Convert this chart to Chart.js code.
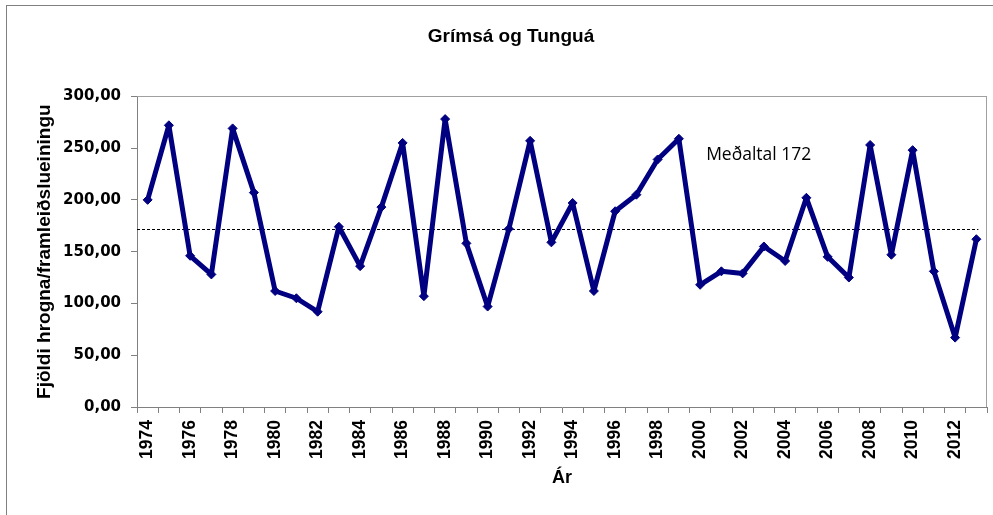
<!DOCTYPE html>
<html>
<head>
<meta charset="utf-8">
<script src="https://cdn.jsdelivr.net/npm/chart.js@4/dist/chart.umd.min.js"></script>
<style>
  html, body { margin: 0; padding: 0; background: #ffffff; }
  canvas { display: block; }
</style>
</head>
<body>
<canvas id="c" width="993" height="515"></canvas>
<script>
// ---- Data ----
const chartTitle = 'Grímsá og Tunguá';
const xAxisTitle = 'Ár';
const yAxisTitle = 'Fjöldi hrogna/framleiðslueiningu';
const years = ['1974','1975','1976','1977','1978','1979','1980','1981','1982','1983',
               '1984','1985','1986','1987','1988','1989','1990','1991','1992','1993',
               '1994','1995','1996','1997','1998','1999','2000','2001','2002','2003',
               '2004','2005','2006','2007','2008','2009','2010','2011','2012','2013'];
const eggsPerUnit = [200,272,146,128,269,207,112,105,92,174,
                     136,193,255,107,278,158,97,172,257,159,
                     197,112,189,205,239,259,118,131,129,155,
                     141,202,145,125,253,147,248,131,67,162];
const meanValue = 172;
const meanLabel = 'Meðaltal 172';
const yTickValues = [0, 50, 100, 150, 200, 250, 300];

// ---- Plugins ----
const decor = {
  id: 'decor',
  beforeDraw(chart) {
    const ctx = chart.ctx;
    ctx.save();
    ctx.fillStyle = '#ffffff';
    ctx.fillRect(0, 0, chart.width, chart.height);
    ctx.strokeStyle = '#808080';
    ctx.lineWidth = 1;
    ctx.strokeRect(6.5, 5.5, chart.width + 10, chart.height + 10);
    ctx.restore();
  },
  beforeDatasetsDraw(chart) {
    const ctx = chart.ctx;
    const a = chart.chartArea;
    const xs = chart.scales.x, ys = chart.scales.y;
    ctx.save();
    // plot frame top / right
    ctx.strokeStyle = '#a0a0a0';
    ctx.lineWidth = 1;
    ctx.beginPath();
    ctx.moveTo(a.left, Math.round(a.top) + 0.5);
    ctx.lineTo(a.right, Math.round(a.top) + 0.5);
    ctx.moveTo(Math.round(a.right) - 0.5, a.top);
    ctx.lineTo(Math.round(a.right) - 0.5, a.bottom);
    ctx.stroke();
    // mean line
    const my = Math.round(ys.getPixelForValue(meanValue)) + 0.5;
    ctx.strokeStyle = '#000000';
    ctx.setLineDash([3, 2]);
    ctx.beginPath();
    ctx.moveTo(a.left, my);
    ctx.lineTo(xs.getPixelForValue(years.length - 1) + 2, my);
    ctx.stroke();
    ctx.setLineDash([]);
    // mean label
    ctx.fillStyle = '#000000';
    ctx.font = '17.5px "Open Sans"';
    ctx.textAlign = 'left';
    ctx.textBaseline = 'middle';
    ctx.fillText(meanLabel, xs.getPixelForValue(years.indexOf('2000')) + 6, ys.getPixelForValue(243));
    ctx.restore();
  }
};

new Chart(document.getElementById('c'), {
  type: 'line',
  data: {
    labels: years,
    datasets: [{
      data: eggsPerUnit,
      borderColor: '#000080',
      backgroundColor: '#000080',
      borderWidth: 5,
      borderJoinStyle: 'round',
      borderCapStyle: 'round',
      pointStyle: 'rectRot',
      pointRadius: 4.5,
      pointBorderWidth: 1,
      pointBackgroundColor: '#000080',
      pointBorderColor: '#000080',
      tension: 0,
      fill: false
    }]
  },
  options: {
    responsive: false,
    animation: false,
    devicePixelRatio: 1,
    layout: { padding: { left: 35, right: 6, top: 0, bottom: 0 } },
    plugins: {
      legend: { display: false },
      tooltip: { enabled: false },
      title: {
        display: true,
        text: chartTitle,
        color: '#000000',
        font: { family: '"Liberation Sans", Arial', size: 19, weight: 'bold', lineHeight: 1.2 },
        padding: { top: 25, bottom: 48.5 }
      }
    },
    scales: {
      x: {
        offset: true,
        grid: { display: true, offset: true, drawOnChartArea: false, drawTicks: true, tickLength: 6, color: '#808080' },
        border: { display: true, color: '#808080', width: 1 },
        ticks: {
          autoSkip: false,
          minRotation: 90,
          maxRotation: 90,
          padding: 7,
          color: '#000000',
          font: { family: '"Liberation Sans", Arial', size: 17.5, weight: 'bold' },
          callback: function (v, i) { return i % 2 === 0 ? years[i] : ''; }
        },
        title: {
          display: true,
          text: xAxisTitle,
          color: '#000000',
          font: { family: '"Liberation Sans", Arial', size: 18, weight: 'bold', lineHeight: 1 },
          padding: { top: 0, bottom: 28 }
        },
        afterFit(scale) { scale.height = 108; scale.paddingLeft = 0; scale.paddingRight = 0; }
      },
      y: {
        min: 0,
        max: 300,
        afterBuildTicks(scale) { scale.ticks = yTickValues.map(v => ({ value: v })); },
        grid: { display: true, drawOnChartArea: false, drawTicks: true, tickLength: 6, color: '#808080' },
        border: { display: true, color: '#808080', width: 1 },
        ticks: {
          padding: 10,
          color: '#000000',
          font: { family: '"DejaVu Sans"', size: 15, weight: 'bold' },
          callback: v => Number(v).toFixed(2).replace('.', ',')
        },
        title: {
          display: true,
          text: yAxisTitle,
          color: '#000000',
          font: { family: '"Liberation Sans", Arial', size: 19, weight: 'bold', lineHeight: 1 },
          padding: { top: 0, bottom: 0 }
        },
        afterFit(scale) { scale.width = 102; scale.paddingTop = 0; scale.paddingBottom = 0; }
      }
    }
  },
  plugins: [decor]
});
</script>
</body>
</html>
